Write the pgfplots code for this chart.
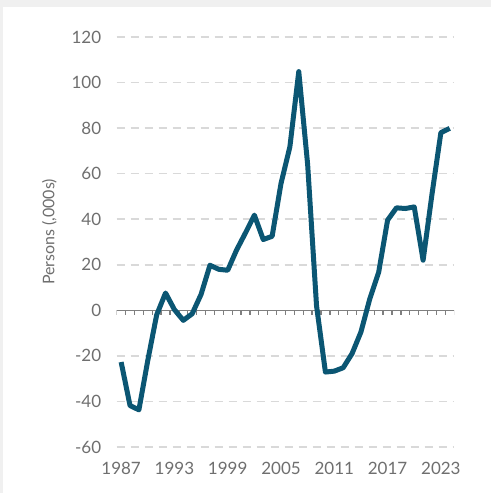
\documentclass[border=0pt]{standalone}
\usepackage{fontspec}
\setmainfont{Lato}
\usepackage{pgfplots}
\pgfplotsset{compat=1.18}
\definecolor{linecol}{HTML}{0B5673}
\definecolor{txt}{HTML}{6F6F6F}
\definecolor{gridc}{HTML}{D9D9D9}
\definecolor{axc}{HTML}{7F7F7F}
\definecolor{bg}{HTML}{F0F0F0}

\begin{document}
\begin{tikzpicture}[x=1pt,y=1pt]
\useasboundingbox (-116.7,-46) rectangle (374.3,447);
\fill[bg] (-116.7,-46) rectangle (374.3,447);
\fill[white] (-113.7,-46) rectangle (374.3,440.3);
\begin{axis}[
    at={(0,0)}, anchor=south west,
    scale only axis, width=337.5pt, height=410pt,
    xmin=1986.5, xmax=2024.5,
    ymin=-60, ymax=120,
    axis line style={draw=none},
    major tick length=0pt,
    xtick={1987,1993,...,2023},
    ytick={-60,-40,...,120},
    ymajorgrids=true,
    grid style={gridc, line width=1.5pt, dash pattern=on 8pt off 6pt},
    ticklabel style={font=\fontsize{17}{17}\selectfont, text=txt},
    yticklabel style={xshift=-12pt},
    xticklabel style={yshift=-12pt},
    /pgf/number format/assume math mode=true,
    /pgf/number format/1000 sep={},
    ylabel={Persons (,000s)},
    ylabel style={font=\fontsize{16}{16}\selectfont, text=txt, yshift=8pt, xshift=10pt},
]

% zero line with year ticks
\draw[axc, line width=1.5pt] (axis cs:1986.5,0) -- (axis cs:2024.5,0);
\pgfplotsinvokeforeach{1986.5,1987.5,...,2024.5}{
    \draw[axc, line width=1.3pt] (axis cs:#1,0) -- ++(0pt,-5pt);
}

\addplot[color=linecol, line width=5pt, line join=round, mark=none]
coordinates {
    (1987, -22.7) (1988, -41.8) (1989, -43.7) (1990, -22) (1991, -2)
    (1992, 7.6) (1993, 0.3) (1994, -4.4) (1995, -1.5) (1996, 7)
    (1997, 19.8) (1998, 18) (1999, 17.6) (2000, 26.5) (2001, 34)
    (2002, 41.8) (2003, 31.1) (2004, 32.5) (2005, 55.7) (2006, 71.8)
    (2007, 104.8) (2008, 64) (2009, 2) (2010, -27.1) (2011, -26.7)
    (2012, -25.2) (2013, -19) (2014, -9.5) (2015, 5.1) (2016, 16.8)
    (2017, 39.6) (2018, 45) (2019, 44.7) (2020, 45.4) (2021, 22)
    (2022, 51) (2023, 78) (2024, 79.9)
};

\end{axis}
\end{tikzpicture}
\end{document}
